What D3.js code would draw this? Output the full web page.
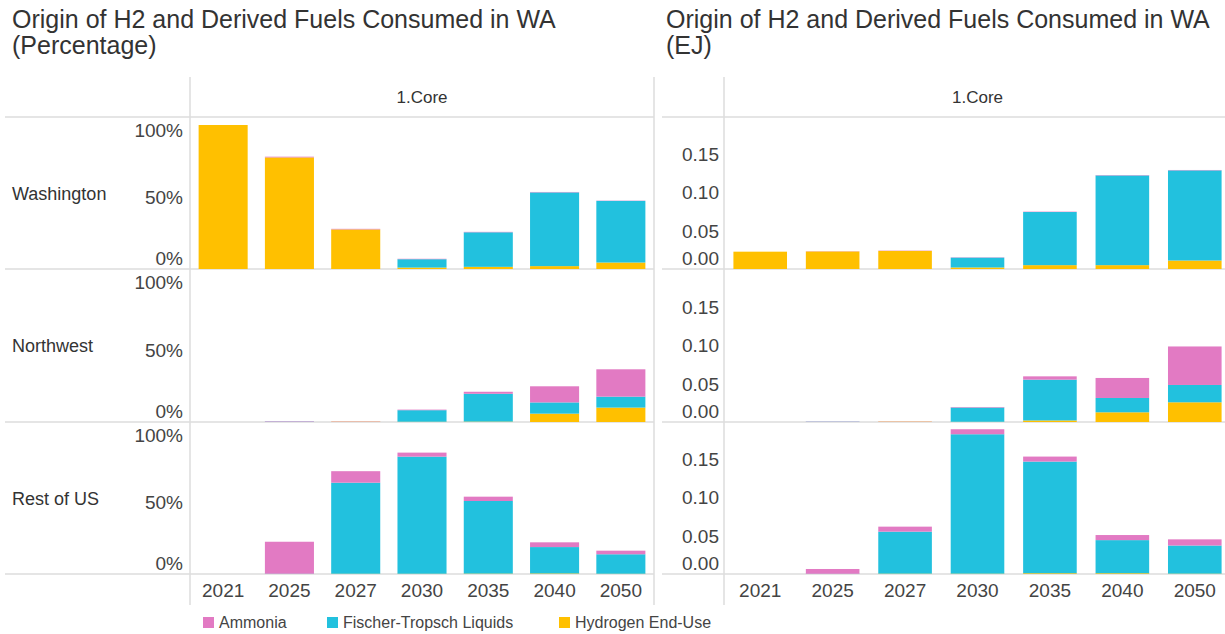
<!DOCTYPE html>
<html><head><meta charset="utf-8">
<script src="https://cdn.jsdelivr.net/npm/d3@7"></script>
<style>
html,body{margin:0;padding:0;background:#fff;}
svg{display:block;font-family:"Liberation Sans",Arial,sans-serif;}
</style></head>
<body>
<svg id="chart" width="1225" height="634"></svg>
<script>
// ---------- data ----------
const years = ["2021","2025","2027","2030","2035","2040","2050"];
const regions = ["Washington","Northwest","Rest of US"];
const fuels = ["Hydrogen End-Use","Fischer-Tropsch Liquids","Ammonia"]; // stack order bottom -> top
const legendOrder = ["Ammonia","Fischer-Tropsch Liquids","Hydrogen End-Use"];
const scenario = "1.Core";

// Percentage share (fraction of yearly total)
const pctWashingtonH2  = [1.000, 0.775, 0.275, 0.010, 0.015, 0.020, 0.045];
const pctWashingtonFT  = [0.000, 0.000, 0.000, 0.058, 0.240, 0.512, 0.428];
const pctWashingtonNH3 = [0.000, 0.005, 0.004, 0.003, 0.003, 0.003, 0.002];
const pctNorthwestH2   = [0.000, 0.000, 0.002, 0.002, 0.003, 0.058, 0.100];
const pctNorthwestFT   = [0.000, 0.002, 0.000, 0.080, 0.193, 0.078, 0.076];
const pctNorthwestNH3  = [0.000, 0.003, 0.002, 0.004, 0.014, 0.112, 0.190];
const pctRestUSH2      = [0.000, 0.000, 0.002, 0.002, 0.003, 0.004, 0.002];
const pctRestUSFT      = [0.000, 0.002, 0.632, 0.813, 0.504, 0.183, 0.135];
const pctRestUSNH3     = [0.000, 0.222, 0.080, 0.028, 0.030, 0.033, 0.025];

// Energy (EJ)
const ejWashingtonH2   = [0.0225, 0.0228, 0.0235, 0.0020, 0.0050, 0.0050, 0.0110];
const ejWashingtonFT   = [0.0000, 0.0000, 0.0000, 0.0128, 0.0690, 0.1165, 0.1171];
const ejWashingtonNH3  = [0.0000, 0.0003, 0.0004, 0.0004, 0.0005, 0.0005, 0.0005];
const ejNorthwestH2    = [0.0000, 0.0000, 0.0004, 0.0003, 0.0020, 0.0126, 0.0256];
const ejNorthwestFT    = [0.0000, 0.0003, 0.0000, 0.0185, 0.0530, 0.0186, 0.0225];
const ejNorthwestNH3   = [0.0000, 0.0003, 0.0003, 0.0007, 0.0043, 0.0260, 0.0500];
const ejRestUSH2       = [0.0000, 0.0000, 0.0005, 0.0005, 0.0010, 0.0010, 0.0005];
const ejRestUSFT       = [0.0000, 0.0003, 0.0545, 0.1810, 0.1450, 0.0430, 0.0365];
const ejRestUSNH3      = [0.0000, 0.0062, 0.0065, 0.0065, 0.0065, 0.0066, 0.0080];

const pctTicks = [0, 0.5, 1.0];
const ejTicks = [0, 0.05, 0.10, 0.15];

const colors = {"Ammonia":"#E27AC3","Fischer-Tropsch Liquids":"#22C1DE","Hydrogen End-Use":"#FFC000"};

// ---------- build tables ----------
function table(h2, ft, nh3){
  return years.map((y,i)=>({year:y,"Hydrogen End-Use":h2[i],"Fischer-Tropsch Liquids":ft[i],"Ammonia":nh3[i]}));
}
const pctData = [
  table(pctWashingtonH2,pctWashingtonFT,pctWashingtonNH3),
  table(pctNorthwestH2,pctNorthwestFT,pctNorthwestNH3),
  table(pctRestUSH2,pctRestUSFT,pctRestUSNH3)
];
const ejData = [
  table(ejWashingtonH2,ejWashingtonFT,ejWashingtonNH3),
  table(ejNorthwestH2,ejNorthwestFT,ejNorthwestNH3),
  table(ejRestUSH2,ejRestUSFT,ejRestUSNH3)
];

// ---------- layout ----------
const svg = d3.select("#chart");
const rowTops = [117, 269, 422];
const rowBottoms = [269, 422, 574];
const gridTop = 77, gridBottom = 605;
const lineColor = "#dcdcdc";

const panels = [
  {title:["Origin of H2 and Derived Fuels Consumed in WA","(Percentage)"], titleX:12,
   x0:190, x1:654, lineX0:5, lineX1:654, pad:7, data:pctData, ticks:pctTicks,
   fmt:d=>Math.round(d*100)+"%", pxPerUnit:144, rowLabels:true},
  {title:["Origin of H2 and Derived Fuels Consumed in WA","(EJ)"], titleX:666,
   x0:724, x1:1231, lineX0:662, lineX1:1231, pad:5, data:ejData, ticks:ejTicks,
   fmt:d3.format(".2f"), pxPerUnit:770, rowLabels:false}
];

const stack = d3.stack().keys(fuels);

panels.forEach(p=>{
  // title
  const t = svg.append("text").attr("x",p.titleX).attr("fill","#333").attr("font-size",25);
  t.append("tspan").attr("x",p.titleX).attr("y",28).text(p.title[0]);
  t.append("tspan").attr("x",p.titleX).attr("y",54).text(p.title[1]);

  const x = d3.scaleBand().domain(years).range([p.x0,p.x1]).paddingInner(0.26).paddingOuter(0.13);

  // horizontal grid lines
  const hl = [rowTops[0]].concat(rowBottoms);
  svg.append("g").selectAll("line").data(hl).join("line")
    .attr("x1",p.lineX0).attr("x2",p.lineX1).attr("y1",d=>d).attr("y2",d=>d)
    .attr("stroke",lineColor).attr("stroke-width",1.5);
  // vertical lines
  svg.append("g").selectAll("line").data([p.x0].concat(p.rowLabels?[p.x1]:[])).join("line")
    .attr("x1",d=>d).attr("x2",d=>d).attr("y1",gridTop).attr("y2",gridBottom)
    .attr("stroke",lineColor).attr("stroke-width",1.5);

  // header
  svg.append("text").attr("x",(p.x0+p.x1)/2).attr("y",103).attr("text-anchor","middle")
    .attr("font-size",17).attr("fill","#333").text(scenario);

  p.data.forEach((rows,ri)=>{
    const top = rowTops[ri], bottom = rowBottoms[ri];
    const y = d3.scaleLinear().domain([0,(bottom-top)/p.pxPerUnit]).range([bottom,top]);
    const series = stack(rows);
    svg.append("g").selectAll("g").data(series).join("g")
      .attr("fill",d=>colors[d.key])
      .selectAll("rect").data(d=>d).join("rect")
      .attr("x",d=>x(d.data.year)).attr("width",x.bandwidth())
      .attr("y",d=>y(d[1])).attr("height",d=>Math.max(0,y(d[0])-y(d[1])));

    // y axis
    const ax = svg.append("g").attr("transform",`translate(${p.x0},0)`)
      .call(d3.axisLeft(y).tickValues(p.ticks).tickFormat(p.fmt).tickSize(0).tickPadding(p.pad));
    ax.select(".domain").remove();
    ax.selectAll("text").attr("font-size",19).attr("fill","#444").attr("font-family","Liberation Sans, Arial, sans-serif")
      .attr("dy",null)
      .each(function(v){
        const yy = y(v);
        let base = yy + 6.8;
        base = Math.max(base, top + 19.5);
        base = Math.min(base, bottom - 4.5);
        d3.select(this).attr("y", base - yy);
      });

    if(p.rowLabels){
      svg.append("text").attr("x",12).attr("y",(top+bottom)/2+6.5)
        .attr("font-size",18).attr("fill","#333").text(regions[ri]);
    }
  });

  // x axis
  const xa = svg.append("g").attr("transform",`translate(0,${rowBottoms[2]})`)
    .call(d3.axisBottom(x).tickSize(0).tickPadding(0));
  xa.select(".domain").remove();
  xa.selectAll("text").attr("font-size",19).attr("fill","#444").attr("font-family","Liberation Sans, Arial, sans-serif")
    .attr("dy",null).attr("y",23);
});

// legend
const legendX = [203, 327, 559];
const lg = svg.append("g").selectAll("g").data(legendOrder).join("g")
  .attr("transform",(d,i)=>`translate(${legendX[i]},617)`);
lg.append("rect").attr("width",11).attr("height",11).attr("fill",d=>colors[d]);
lg.append("text").attr("x",16).attr("y",11).attr("font-size",16).attr("fill","#444").text(d=>d);
</script>
</body></html>
